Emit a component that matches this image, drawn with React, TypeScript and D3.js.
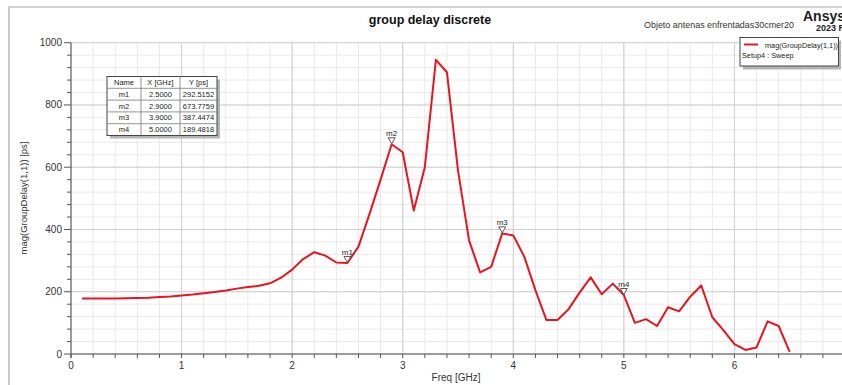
import React from 'react';
import * as d3 from 'd3';

// sweep points, GHz
const freq = [
  0.1, 0.2, 0.3, 0.4, 0.5, 0.6, 0.7, 0.8, 0.9, 1.0,
  1.1, 1.2, 1.3, 1.4, 1.5, 1.6, 1.7, 1.8, 1.9, 2.0,
  2.1, 2.2, 2.3, 2.4, 2.5, 2.6, 2.7, 2.8, 2.9, 3.0,
  3.1, 3.2, 3.3, 3.4, 3.5, 3.6, 3.7, 3.8, 3.9, 4.0,
  4.1, 4.2, 4.3, 4.4, 4.5, 4.6, 4.7, 4.8, 4.9, 5.0,
  5.1, 5.2, 5.3, 5.4, 5.5, 5.6, 5.7, 5.8, 5.9, 6.0,
  6.1, 6.2, 6.3, 6.4, 6.5,
];
// mag(GroupDelay(1,1)) in ps
const groupDelay = [
  178, 178, 178, 178, 179, 180, 181, 183, 185, 188,
  191, 195, 199, 204, 210, 215, 219, 227, 245, 271,
  305, 327, 316, 294, 292.5, 345, 450, 560, 673.8, 648,
  461, 600, 945, 905, 590, 365, 262, 280, 387.4, 381,
  312, 205, 109, 109, 144, 197, 246, 192, 226, 189.5,
  100, 112, 90, 150, 137, 184, 220, 118, 77, 32,
  13, 21, 105, 90, 7,
];

const markerNames = ['m1', 'm2', 'm3', 'm4'];
const markerX = [2.5, 2.9, 3.9, 5.0];
const markerY = [292.5152, 673.7759, 387.4474, 189.4818];

const xTicks = [0, 1, 2, 3, 4, 5, 6, 7];
const yTicks = [0, 200, 400, 600, 800, 1000];

const W = 842;
const H = 385;
const font = "'Liberation Sans', Arial, sans-serif";

export default function App() {
  const x = d3.scaleLinear().domain([0, 7]).range([71, 845]);
  const y = d3.scaleLinear().domain([0, 1000]).range([354, 42.7]);

  const pts = freq.map((f, i) => [f, groupDelay[i]] as [number, number]);
  const line = d3.line<[number, number]>().x(d => x(d[0])).y(d => y(d[1]));

  const xMinor = d3.range(0, 7.01, 0.2);
  const yMinor = d3.range(0, 1000.1, 40);

  // marker table layout
  const tx = [107, 141, 180, 217];
  const ty0 = 76.5;
  const rowH = 11.8;
  const headers = ['Name', 'X [GHz]', 'Y [ps]'];
  const rows = markerNames.map((n, i) => [n, markerX[i].toFixed(4), markerY[i].toFixed(4)]);
  const tableBottom = ty0 + rowH * (rows.length + 1);

  return (
    <svg width={W} height={H} style={{ position: 'absolute', left: 0, top: 0, background: '#fff' }}
      fontFamily={font}>
      <rect x={0} y={0} width={W} height={H} fill="#fff" />
      {/* outer frame */}
      <path d={`M9,${H} V7 H${W}`} fill="none" stroke="#a8a8a8" strokeWidth={1.2} />

      {/* grid */}
      {xMinor.map((t, i) => (
        <line key={'xm' + i} x1={x(t)} x2={x(t)} y1={y(0)} y2={y(1000)} stroke="#e9e9e9" />
      ))}
      {yMinor.map((t, i) => (
        <line key={'ym' + i} x1={x(0)} x2={W} y1={y(t)} y2={y(t)} stroke="#e9e9e9" />
      ))}
      {xTicks.map(t => (
        <line key={'xg' + t} x1={x(t)} x2={x(t)} y1={y(0)} y2={y(1000)} stroke="#cfcfcf" />
      ))}
      {yTicks.map(t => (
        <line key={'yg' + t} x1={x(0)} x2={W} y1={y(t)} y2={y(t)} stroke="#cfcfcf" />
      ))}

      {/* axes */}
      <line x1={x(0)} x2={W} y1={y(0)} y2={y(0)} stroke="#555" />
      <line x1={x(0)} x2={x(0)} y1={y(0) + 4} y2={y(1000)} stroke="#555" />
      {xMinor.map((t, i) => (
        <line key={'xt' + i} x1={x(t)} x2={x(t)} y1={y(0)} y2={y(0) + 4} stroke="#555" />
      ))}
      {yMinor.map((t, i) => (
        <line key={'yt' + i} x1={x(0) - (t % 200 === 0 ? 7 : 4)} x2={x(0)} y1={y(t)} y2={y(t)} stroke="#555" />
      ))}
      {xTicks.map(t => (
        <text key={'xl' + t} x={x(t)} y={369} fontSize={10} textAnchor="middle" fill="#333">{t}</text>
      ))}
      {yTicks.map(t => (
        <text key={'yl' + t} x={62} y={y(t) + 3.5} fontSize={10} textAnchor="end" fill="#333">{t}</text>
      ))}
      <text x={456} y={381} fontSize={10} textAnchor="middle" fill="#333">Freq [GHz]</text>
      <text transform={`translate(27,198) rotate(-90)`} fontSize={9.5} textAnchor="middle" fill="#333">
        mag(GroupDelay(1,1)) [ps]
      </text>

      {/* curve */}
      <path d={line(pts) || ''} fill="none" stroke="#e8141e" strokeWidth={2} strokeLinejoin="round" />

      {/* markers */}
      {markerNames.map((n, i) => {
        const mx = x(markerX[i]);
        const my = y(markerY[i]);
        return (
          <g key={n}>
            <path d={`M${mx - 3.5},${my - 6.5} H${mx + 3.5} L${mx},${my - 0.5} Z`} fill="#fff" stroke="#444" strokeWidth={0.9} />
            <text x={mx} y={my - 8} fontSize={8} textAnchor="middle" fill="#222">{n}</text>
          </g>
        );
      })}

      {/* marker table */}
      <rect x={tx[0] + 3} y={ty0 + 3} width={tx[3] - tx[0]} height={tableBottom - ty0} fill="#b5b5b5" />
      <rect x={tx[0]} y={ty0} width={tx[3] - tx[0]} height={tableBottom - ty0} fill="#fff" stroke="#444" />
      {rows.map((_, i) => (
        <line key={'tr' + i} x1={tx[0]} x2={tx[3]} y1={ty0 + rowH * (i + 1)} y2={ty0 + rowH * (i + 1)} stroke="#777" strokeWidth={0.8} />
      ))}
      {[1, 2].map(c => (
        <line key={'tc' + c} x1={tx[c]} x2={tx[c]} y1={ty0} y2={tableBottom} stroke="#777" strokeWidth={0.8} />
      ))}
      {[headers, ...rows].map((r, ri) =>
        r.map((cell, ci) => (
          <text key={ri + '-' + ci} x={(tx[ci] + tx[ci + 1]) / 2} y={ty0 + rowH * ri + 8.5}
            fontSize={7.5} textAnchor="middle" fill="#222">{cell}</text>
        ))
      )}

      {/* legend */}
      <rect x={743} y={40.5} width={98} height={29} fill="#b5b5b5" />
      <rect x={740} y={37.5} width={98.5} height={28.5} fill="#fff" stroke="#444" />
      <line x1={744} x2={758} y1={44.5} y2={44.5} stroke="#e8141e" strokeWidth={2} />
      <text x={765} y={47.5} fontSize={7.3} fill="#222">mag(GroupDelay(1,1))</text>
      <text x={742} y={57.5} fontSize={7.3} fill="#222">Setup4 : Sweep</text>

      {/* titles */}
      <text x={430} y={23.5} fontSize={12.5} fontWeight="bold" textAnchor="middle" fill="#111">group delay discrete</text>
      <text x={644} y={28} fontSize={9.5} fill="#333" textLength={150} lengthAdjust="spacingAndGlyphs"
        fontFamily="'Liberation Sans Narrow', 'Liberation Sans', sans-serif">
        Objeto  antenas  enfrentadas30cmer20
      </text>
      <text x={803} y={21} fontSize={14} fontWeight="bold" fill="#222">Ansys</text>
      <text x={816} y={31} fontSize={9} fontWeight="bold" fill="#222">2023 R</text>
    </svg>
  );
}
